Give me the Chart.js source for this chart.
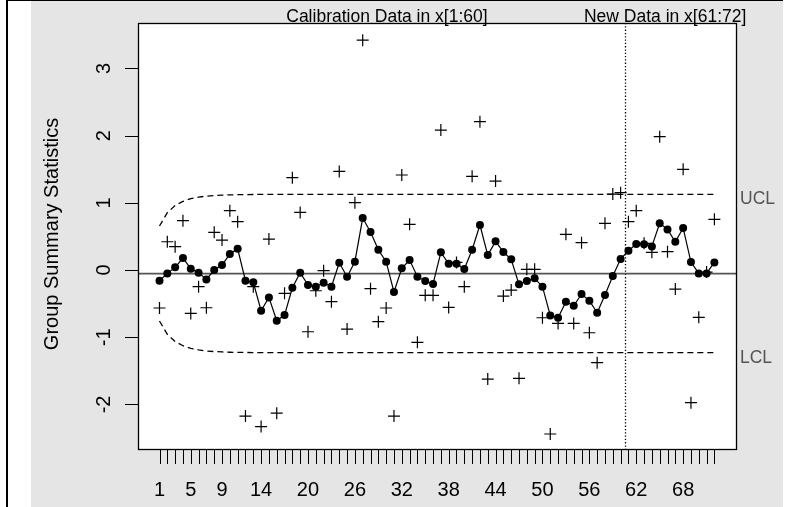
<!DOCTYPE html>
<html>
<head>
<meta charset="utf-8">
<script src="https://cdn.jsdelivr.net/npm/chart.js@4.4.1/dist/chart.umd.min.js"></script>
<style>
  html, body { margin: 0; padding: 0; background: #ffffff; }
  #wrap { width: 788px; height: 507px; position: relative; }
</style>
</head>
<body>
<div id="wrap"><canvas id="ewma" width="788" height="507"></canvas></div>
<script>
// EWMA chart: group statistics (crosses) with their smoothed EWMA values (dots)
const groupIndex = Array.from({ length: 72 }, (_, k) => k + 1);

const groupStats = [
  -0.565, 0.421, 0.347, 0.734, -0.645, -0.248, -0.561, 0.561, 0.446, 0.883,
  0.719, -2.173, -0.248, -2.33, 0.461, -2.13, -0.347, 1.374, 0.858, -0.918,
  -0.308, -0.01, -0.471, 1.468, -0.878, 1.002, 3.42, -0.278, -0.769, -0.565,
  -2.173, 1.414, 0.68, -1.076, -0.377, -0.377, 2.083, -0.556, 0.114, -0.248,
  1.394, 2.207, -1.622, 1.324, -0.387, -0.298, -1.612, 0.01, 0.01, -0.71,
  -2.44, -0.794, 0.531, -0.794, 0.407, -0.933, -1.379, 0.695, 1.131, 1.151,
  0.719, 0.883, 0.397, 0.263, 1.984, 0.273, -0.283, 1.498, -1.974, -0.704,
  -0.03, 0.754
];

const ewmaValues = [
  -0.159, -0.05, 0.04, 0.179, 0.02, -0.04, -0.139, 0.0, 0.074, 0.238,
  0.317, -0.159, -0.183, -0.605, -0.407, -0.754, -0.67, -0.263, -0.04, -0.223,
  -0.248, -0.189, -0.248, 0.109, -0.099, 0.124, 0.774, 0.565, 0.302, 0.124,
  -0.327, 0.025, 0.149, -0.099, -0.164, -0.208, 0.263, 0.094, 0.094, 0.015,
  0.302, 0.67, 0.223, 0.427, 0.268, 0.159, -0.213, -0.164, -0.124, -0.248,
  -0.675, -0.71, -0.471, -0.531, -0.357, -0.456, -0.635, -0.372, -0.089, 0.164,
  0.288, 0.387, 0.382, 0.352, 0.695, 0.605, 0.421, 0.625, 0.119, -0.05,
  -0.05, 0.114
];

const upperLimit = [
  0.655, 0.853, 0.960, 1.022, 1.061, 1.085, 1.100, 1.109, 1.115, 1.119,
  1.121, 1.123, 1.124, 1.125, 1.125, 1.126, 1.126, 1.126, 1.126, 1.126,
  1.126, 1.126, 1.126, 1.126, 1.126, 1.126, 1.126, 1.126, 1.126, 1.126,
  1.126, 1.126, 1.126, 1.126, 1.126, 1.126, 1.126, 1.126, 1.126, 1.126,
  1.126, 1.126, 1.126, 1.126, 1.126, 1.126, 1.126, 1.126, 1.126, 1.126,
  1.126, 1.126, 1.126, 1.126, 1.126, 1.126, 1.126, 1.126, 1.126, 1.126,
  1.126, 1.126, 1.126, 1.126, 1.126, 1.126, 1.126, 1.126, 1.126, 1.126,
  1.126, 1.126
];

const lowerLimit = [
  -0.759, -0.957, -1.064, -1.126, -1.165, -1.189, -1.204, -1.213, -1.219, -1.223,
  -1.225, -1.227, -1.228, -1.229, -1.229, -1.230, -1.230, -1.230, -1.230, -1.230,
  -1.230, -1.230, -1.230, -1.230, -1.230, -1.230, -1.230, -1.230, -1.230, -1.230,
  -1.230, -1.230, -1.230, -1.230, -1.230, -1.230, -1.230, -1.230, -1.230, -1.230,
  -1.230, -1.230, -1.230, -1.230, -1.230, -1.230, -1.230, -1.230, -1.230, -1.230,
  -1.230, -1.230, -1.230, -1.230, -1.230, -1.230, -1.230, -1.230, -1.230, -1.230,
  -1.230, -1.230, -1.230, -1.230, -1.230, -1.230, -1.230, -1.230, -1.230, -1.230,
  -1.230, -1.230
];

const centerValue = -0.052;
const splitAt = 60.5;                 // calibration / new data boundary
const xTickLabels = [1, 5, 9, 14, 20, 26, 32, 38, 44, 50, 56, 62, 68];
const yTickValues = [-2, -1, 0, 1, 2, 3];

const X_MIN = -1.751, X_MAX = 74.764;
const Y_MIN = -2.663, Y_MAX = 3.676;

const FONT = '"Liberation Sans", Arial, Helvetica, sans-serif';

const toPoints = (vals) => vals.map((v, k) => ({ x: groupIndex[k], y: v }));

const frame = {
  id: 'frame',
  beforeDraw(chart) {
    const { ctx, chartArea: a } = chart;
    ctx.save();
    ctx.fillStyle = '#ffffff';
    ctx.fillRect(0, 0, chart.width, chart.height);
    ctx.fillStyle = '#e5e5e5';
    ctx.fillRect(31, 1, 752, 506);
    ctx.fillStyle = '#000000';
    ctx.fillRect(6, 0, 2, chart.height);
    ctx.fillRect(6, 0, 777, 1);
    ctx.fillStyle = '#ffffff';
    ctx.fillRect(a.left, a.top, a.right - a.left, a.bottom - a.top);
    ctx.restore();
  },
  beforeDatasetsDraw(chart) {
    const { ctx, chartArea: a, scales: { x } } = chart;
    const px = Math.round(x.getPixelForValue(splitAt)) + 0.5;
    ctx.save();
    ctx.strokeStyle = '#000000';
    ctx.lineWidth = 1.3;
    ctx.setLineDash([1.3, 2]);
    ctx.beginPath();
    ctx.moveTo(px, a.top);
    ctx.lineTo(px, a.bottom);
    ctx.stroke();
    ctx.restore();
  },
  afterDraw(chart) {
    const { ctx, chartArea: a, scales: { x, y } } = chart;
    ctx.save();
    // plot box
    ctx.strokeStyle = '#000000';
    ctx.lineWidth = 1.3;
    ctx.strokeRect(a.left + 0.5, a.top + 0.5, a.right - a.left, a.bottom - a.top);

    // x axis ticks and labels
    ctx.lineWidth = 1;
    ctx.beginPath();
    groupIndex.forEach(i => {
      const px = Math.round(x.getPixelForValue(i)) + 0.5;
      ctx.moveTo(px, a.bottom + 1);
      ctx.lineTo(px, a.bottom + 15);
    });
    ctx.stroke();
    ctx.fillStyle = '#000000';
    ctx.font = '20px ' + FONT;
    ctx.textAlign = 'center';
    ctx.textBaseline = 'middle';
    xTickLabels.forEach(v => {
      ctx.fillText(String(v), x.getPixelForValue(v), a.bottom + 41);
    });

    // y axis ticks and rotated labels
    ctx.beginPath();
    yTickValues.forEach(v => {
      const py = Math.round(y.getPixelForValue(v)) + 0.5;
      ctx.moveTo(a.left - 13, py);
      ctx.lineTo(a.left, py);
    });
    ctx.stroke();
    yTickValues.forEach(v => {
      ctx.save();
      ctx.translate(a.left - 34, y.getPixelForValue(v));
      ctx.rotate(-Math.PI / 2);
      ctx.fillText(String(v), 0, 0);
      ctx.restore();
    });

    // axis title
    ctx.save();
    ctx.translate(52, (a.top + a.bottom) / 2 - 2);
    ctx.rotate(-Math.PI / 2);
    ctx.fillText('Group Summary Statistics', 0, 0);
    ctx.restore();

    // region captions
    ctx.font = '17.5px ' + FONT;
    ctx.textBaseline = 'alphabetic';
    ctx.fillText('Calibration Data in x[1:60]', x.getPixelForValue(30.1), a.top - 1.5);
    ctx.fillText('New Data in x[61:72]', x.getPixelForValue(65.7), a.top - 1.5);

    // limit labels
    ctx.fillStyle = '#555555';
    ctx.textAlign = 'left';
    ctx.textBaseline = 'middle';
    ctx.fillText('UCL', a.right + 4, y.getPixelForValue(upperLimit[71]) + 5);
    ctx.fillText('LCL', a.right + 4, y.getPixelForValue(lowerLimit[71]) + 5);
    ctx.restore();
  }
};

new Chart(document.getElementById('ewma'), {
  type: 'line',
  data: {
    datasets: [
      {
        label: 'EWMA',
        data: toPoints(ewmaValues),
        borderColor: '#000000',
        borderWidth: 1.2,
        pointRadius: 4,
        pointBackgroundColor: '#000000',
        pointBorderColor: '#000000',
        pointBorderWidth: 0,
        tension: 0
      },
      {
        label: 'Group statistics',
        data: toPoints(groupStats),
        showLine: false,
        pointStyle: 'cross',
        pointRadius: 6,
        pointBorderColor: '#000000',
        pointBorderWidth: 1.2
      },
      {
        label: 'UCL',
        data: toPoints(upperLimit),
        borderColor: '#000000',
        borderWidth: 1.3,
        borderDash: [6, 4],
        pointRadius: 0,
        tension: 0
      },
      {
        label: 'LCL',
        data: toPoints(lowerLimit),
        borderColor: '#000000',
        borderWidth: 1.3,
        borderDash: [6, 4],
        pointRadius: 0,
        tension: 0
      },
      {
        label: 'Center',
        data: [{ x: X_MIN, y: centerValue }, { x: X_MAX, y: centerValue }],
        borderColor: '#555555',
        borderWidth: 1.8,
        pointRadius: 0
      }
    ]
  },
  options: {
    responsive: false,
    animation: false,
    devicePixelRatio: 1,
    layout: { padding: { left: 138, right: 52, top: 23, bottom: 58 } },
    plugins: { legend: { display: false }, tooltip: { enabled: false } },
    scales: {
      x: { type: 'linear', min: X_MIN, max: X_MAX, display: false },
      y: { type: 'linear', min: Y_MIN, max: Y_MAX, display: false }
    }
  },
  plugins: [frame]
});
</script>
</body>
</html>
